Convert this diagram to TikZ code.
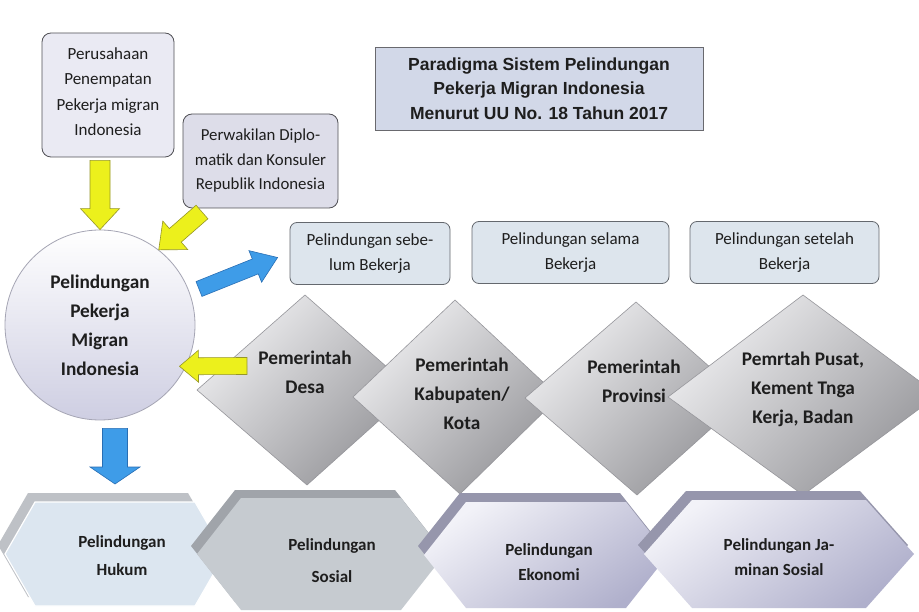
\documentclass[tikz,border=0pt]{standalone}
\usepackage{fontspec}
\setmainfont{Carlito}
\newfontfamily\titlefont{Liberation Sans}
\usetikzlibrary{calc}
\definecolor{yfill}{RGB}{236,240,28}
\definecolor{yline}{RGB}{150,150,40}
\definecolor{bfill}{RGB}{62,156,232}
\definecolor{bline}{RGB}{40,110,180}
\definecolor{boxone}{RGB}{234,234,243}
\definecolor{boxtwo}{RGB}{221,221,233}
\definecolor{boxline}{RGB}{80,80,85}
\definecolor{titlefill}{RGB}{210,216,232}
\definecolor{titleline}{RGB}{105,105,110}
\definecolor{smallfill}{RGB}{221,229,237}
\definecolor{smallline}{RGB}{100,104,110}
\definecolor{circbot}{RGB}{206,206,226}
\definecolor{circline}{RGB}{165,165,180}
\definecolor{dtop}{RGB}{238,238,240}
\definecolor{dbot}{RGB}{150,150,154}
\definecolor{dline}{RGB}{150,150,155}
\definecolor{hafill}{RGB}{220,230,240}
\definecolor{haband}{RGB}{190,193,198}
\definecolor{hbfill}{RGB}{198,203,208}
\definecolor{hbband}{RGB}{160,164,170}
\definecolor{hctop}{RGB}{242,242,248}
\definecolor{hcbot}{RGB}{176,176,204}
\definecolor{hcband}{RGB}{150,150,172}
\definecolor{ink}{RGB}{30,30,30}
% block arrow: style, from, to, shaft half width, head half width, head length
\newcommand\barrow[6]{%
  \draw[#1] let \p1=($(#3)-(#2)$), \n1={atan2(\y1,\x1)}, \n2={veclen(\x1,\y1)} in
   [shift={(#2)}, rotate=\n1] (0pt,-#4) -- (\n2-#6,-#4) -- (\n2-#6,-#5) -- (\n2,0pt)
   -- (\n2-#6,#5) -- (\n2-#6,#4) -- (0pt,#4) -- cycle;}
% hexagon: style, cx, cy, half top, half width, half height
\newcommand\hexa[6]{%
  \path[#1] ({#2-#5},{#3}) -- ({#2-#4},{#3-#6}) -- ({#2+#4},{#3-#6}) -- ({#2+#5},{#3})
   -- ({#2+#4},{#3+#6}) -- ({#2-#4},{#3+#6}) -- cycle;}
\begin{document}
\begin{tikzpicture}[x=1pt,y=-1pt,
  txt/.style={text=ink, align=center, inner sep=0pt},
  regfont/.style={font=\fontsize{17}{25.5}\selectfont},
  roundbox/.style={txt, regfont, draw=boxline, line width=0.8pt, rounded corners=9pt},
  smallbox/.style={txt, regfont, draw=smallline, fill=smallfill, line width=0.8pt,
     rounded corners=7pt, minimum height=62pt},
  titlebox/.style={txt, draw=titleline, fill=titlefill, line width=0.9pt,
     font=\titlefont\bfseries\fontsize{17.5}{24.5}\selectfont},
  bigbold/.style={txt, font=\bfseries\fontsize{19.3}{29}\selectfont},
  hexbold/.style={txt, font=\bfseries\fontsize{17}{27}\selectfont},
  diam/.style={top color=dtop, bottom color=dbot, shading angle=45, draw=dline, line width=0.6pt},
  yarr/.style={fill=yfill, draw=yline, line width=0.6pt},
  barr/.style={fill=bfill, draw=bline, line width=0.6pt}]
\useasboundingbox[fill=white] (0,0) rectangle (919,612);

% top boxes
\node[roundbox, fill=boxone, minimum width=132pt, minimum height=124pt, text depth=7pt]
  (b1) at (108,95) {Perusahaan\\Penempatan\\Pekerja migran\\Indonesia};
\node[roundbox, fill=boxtwo, minimum width=155pt, minimum height=94pt,
  font=\fontsize{16.8}{24.5}\selectfont]
  (b2) at (260.5,161) {Perwakilan Diplo-\\matik dan Konsuler\\Republik Indonesia};
\node[titlebox, minimum width=328pt, minimum height=83pt]
  (title) at (539,88.5) {Paradigma Sistem Pelindungan\\Pekerja Migran Indonesia\\Menurut UU No. 18 Tahun 2017};

% phase boxes
\node[smallbox, minimum width=160pt] (pa) at (370,253.5) {Pelindungan sebe-\\lum Bekerja};
\node[smallbox, minimum width=197pt] (pb) at (570.5,252.5) {Pelindungan selama\\Bekerja};
\node[smallbox, minimum width=189pt] (pc) at (784.5,252.5) {Pelindungan setelah\\Bekerja};

% circle
\node[circle, bigbold, minimum size=190pt, top color=white, bottom color=circbot,
  draw=circline, line width=0.8pt]
  (circ) at (100,325) {Pelindungan\\Pekerja\\Migran\\Indonesia};

% diamonds
\path[diam] (305,295) -- (413,390) -- (307,485) -- (197,390) -- cycle;
\node[bigbold] (d1) at (305,372.5) {Pemerintah\\Desa};
\path[diam] (455,300) -- (559,397) -- (460,494) -- (353,397) -- cycle;
\node[bigbold] (d2) at (462,393.5) {Pemerintah\\Kabupaten/\\Kota};
\path[diam] (636,302) -- (745,398) -- (637,495) -- (525,398) -- cycle;
\node[bigbold] (d3) at (634,381) {Pemerintah\\Provinsi};
\path[diam] (803,295) -- (938,395) -- (803,495) -- (668,397) -- cycle;
\node[bigbold] (d4) at (803,389) {Pemrtah Pusat,\\Kement Tnga\\Kerja, Badan};

% hexagons
\hexa{fill=haband}{108}{545}{80}{110}{52}
\hexa{fill=hafill, draw=white, line width=1.2pt}{115}{554}{80}{110}{52}
\node[hexbold, font=\bfseries\fontsize{17}{28}\selectfont] (h1) at (122,556) {Pelindungan\\Hukum};
\hexa{fill=hbband}{315}{546}{80}{124}{56}
\hexa{fill=hbfill}{321}{554}{80}{124}{56}
\node[hexbold, font=\bfseries\fontsize{17}{32}\selectfont] (h2) at (332,561) {Pelindungan\\Sosial};
\hexa{fill=hcband}{540}{546}{80}{122}{53}
\hexa{top color=hctop, bottom color=hcbot, shading angle=35}{546}{555}{80}{122}{53}
\node[hexbold, font=\bfseries\fontsize{17}{25}\selectfont] (h3) at (549,562.5) {Pelindungan\\Ekonomi};
\hexa{fill=hcband}{773}{545}{87}{135}{54}
\hexa{top color=hctop, bottom color=hcbot, shading angle=35}{779}{554}{87}{135}{54}
\node[hexbold, font=\bfseries\fontsize{17}{25}\selectfont] (h4) at (779,557.5) {Pelindungan Ja-\\minan Sosial};

% arrows
\coordinate (y2s) at (202,212);
\coordinate (y3s) at (247,366);
\coordinate (bls) at (199,289);
\coordinate (bde) at (115,484);
\barrow{yarr}{$(b1.south -| circ.north)+(0,3)$}{circ.north}{10pt}{19.5pt}{21pt}
\barrow{yarr}{y2s}{circ.52}{9pt}{19pt}{22pt}
\barrow{yarr}{y3s}{$(circ.-25)+(-7,1)$}{8.5pt}{16pt}{19pt}
\barrow{barr}{bls}{$(pa.west)+(-12,4)$}{8pt}{17pt}{24pt}
\barrow{barr}{$(circ.south)+(15,8)$}{bde}{12.5pt}{25pt}{17pt}
\end{tikzpicture}
\end{document}
